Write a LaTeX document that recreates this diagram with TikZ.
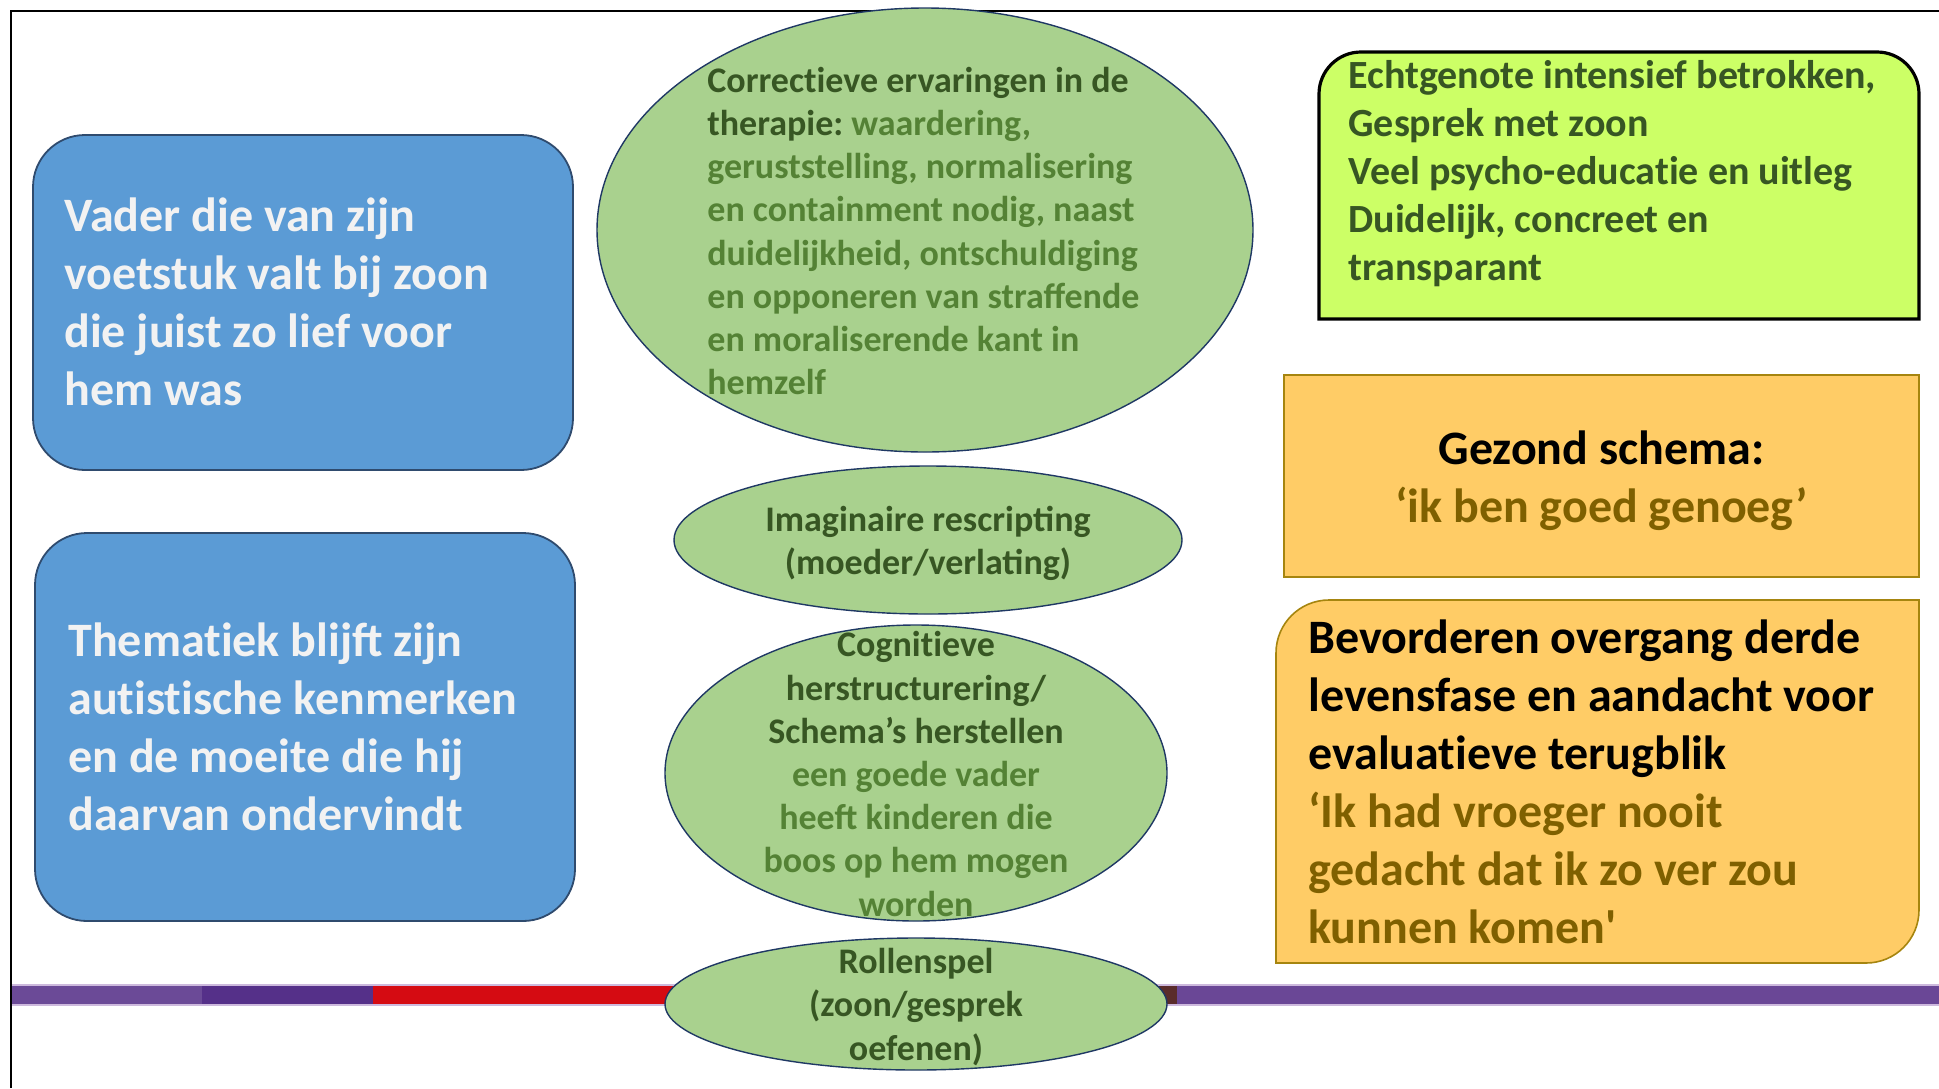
\documentclass[tikz,border=0pt]{standalone}
\usepackage{fontspec}
\setmainfont{Carlito}
\usetikzlibrary{shapes.geometric}
\definecolor{boxblue}{HTML}{5B9BD5}
\definecolor{boxblueline}{HTML}{2F4B6E}
\definecolor{ovalgreen}{HTML}{A9D18E}
\definecolor{ovalline}{HTML}{1F3864}
\definecolor{dkgreen}{HTML}{375623}
\definecolor{ltgreen}{HTML}{548235}
\definecolor{limefill}{HTML}{CCFF66}
\definecolor{goldfill}{HTML}{FFCC66}
\definecolor{goldline}{HTML}{A6850F}
\definecolor{goldtext}{HTML}{7F6000}
\definecolor{barlilac}{HTML}{6B4A97}
\definecolor{barviolet}{HTML}{553089}
\definecolor{barred}{HTML}{D50B12}
\definecolor{barbrown}{HTML}{5A2C2B}
\definecolor{barpurple}{HTML}{6A4796}
\definecolor{baredge}{HTML}{CDB9DD}
\newcommand{\straightquote}{\XeTeXglyph\XeTeXcharglyph"0027\relax}
\newcommand{\nolig}{\kern0pt }

\begin{document}
\begin{tikzpicture}[
    x = 0.5pt, y = 0.5pt,
    every node/.style = {inner sep=0pt},
  bluebox/.style  = {draw=boxblueline, line width=0.9pt, fill=boxblue,
                     rounded corners=26pt, minimum width=270pt},
  bluetext/.style = {anchor=west, align=left, text=white!95!black,
                     font=\frenchspacing\bfseries\fontsize{24}{29}\selectfont},
  oval/.style     = {ellipse, draw=ovalline, line width=0.7pt, fill=ovalgreen},
  ovaltext/.style = {align=center, text=dkgreen,
                     font=\frenchspacing\bfseries\fontsize{18}{21.6}\selectfont},
  limebox/.style  = {draw=black, line width=1.6pt, fill=limefill},
  goldbox/.style  = {draw=goldline, line width=0.8pt, fill=goldfill},
  goldtext/.style = {text=black, font=\frenchspacing\bfseries\fontsize{24}{29}\selectfont}
]
\useasboundingbox (0,0) rectangle (1939,-1088);

% frame and time bar
\draw[line width=1.3pt] (11,-1088) -- (11,-11) -- (1939,-11);
\foreach \a/\b/\c in {12/202/barlilac, 202/373/barviolet, 373/1000/barred,
                      1000/1177/barbrown, 1177/1939/barpurple}
  \fill[\c] (\a,-985) rectangle (\b,-1005);
\draw[baredge, line width=0.6pt] (12,-985) -- (1939,-985) (12,-1005) -- (1939,-1005);

% left column
\node[bluebox, minimum height=167.5pt] (vaderbox) at (303,-302.5) {};
\node[bluetext] (vader) at (64,-302) {Vader die van zijn\\voetstuk valt bij zoon\\
  die juist zo lief voor\\hem was};
\node[bluebox, minimum height=194pt] (themabox) at (305,-727) {};
\node[bluetext] (thema) at (68,-727) {Themat\nolig iek blijft zijn\\aut\nolig ist\nolig ische kenmerken\\
  en de moeite die hij\\daarvan ondervindt};

% middle column
\node[oval, minimum width=328pt, minimum height=222pt] (correctiefoval) at (925,-230) {};
\node[ovaltext, anchor=west, align=left, text=ltgreen] (correctief) at (707,-231)
  {{\color{dkgreen}Correct\nolig ieve ervaringen in de}\\{\color{dkgreen}therapie:} waardering,\\
   geruststelling, normalisering\\en containment nodig, naast\\
   duidelijkheid, ontschuldiging\\en opponeren van straffende\\
   en moraliserende kant in\\hemzelf};
\node[oval, minimum width=254pt, minimum height=74pt] (imaginairoval) at (928,-540) {};
\node[ovaltext] (imaginair) at (928,-543) {Imaginaire rescripting\\(moeder/verlating)};
\node[oval, minimum width=251pt, minimum height=148pt] (cognitiefoval) at (916,-773) {};
\node[ovaltext] (cognitief) at (916,-774) {Cognit\nolig ieve\\herstructurering/\\Schema’s herstellen\\
  {\color{ltgreen}een goede vader}\\{\color{ltgreen}heeft kinderen die}\\
  {\color{ltgreen}boos op hem mogen}\\{\color{ltgreen}worden}};
\node[oval, minimum width=251pt, minimum height=66pt] (rollenspeloval) at (916,-1004) {};
\node[ovaltext] (rollenspel) at (916,-1007) {Rollenspel\\(zoon/gesprek\\oefenen)};

% right column
\draw[limebox] (1319,-319) -- (1319,-94) arc[start angle=180, end angle=90, radius=42]
  -- (1877,-52) arc[start angle=90, end angle=0, radius=42] -- (1919,-319) -- cycle;
\node[anchor=west, align=left, text=dkgreen,
      font=\frenchspacing\bfseries\fontsize{20}{24}\selectfont]
  (echtgenote) at (1348,-174) {Echtgenote intensief betrokken,\\Gesprek met zoon\\
  Veel psycho-educat\nolig ie en uitleg\\Duidelijk, concreet en\\transparant};

\node[goldbox, minimum width=317.5pt, minimum height=101pt] (gezondbox) at (1601.5,-476) {};
\node[goldtext, align=center] (gezond) at (1601.5,-481)
  {Gezond schema:\\{\color{goldtext}‘ik ben goed genoeg’}};

\draw[goldbox] (1276,-963) -- (1276,-653) arc[start angle=180, end angle=90, radius=53]
  -- (1919,-600) -- (1919,-910) arc[start angle=0, end angle=-90, radius=53] -- cycle;
\node[goldtext, anchor=west, align=left] (bevorderen) at (1308,-782)
  {Bevorderen overgang derde\\levensfase en aandacht voor\\evaluat\nolig ieve terugblik\\
   {\color{goldtext}‘Ik had vroeger nooit}\\{\color{goldtext}gedacht dat ik zo ver zou}\\
   {\color{goldtext}kunnen komen\straightquote}};
\end{tikzpicture}
\end{document}
